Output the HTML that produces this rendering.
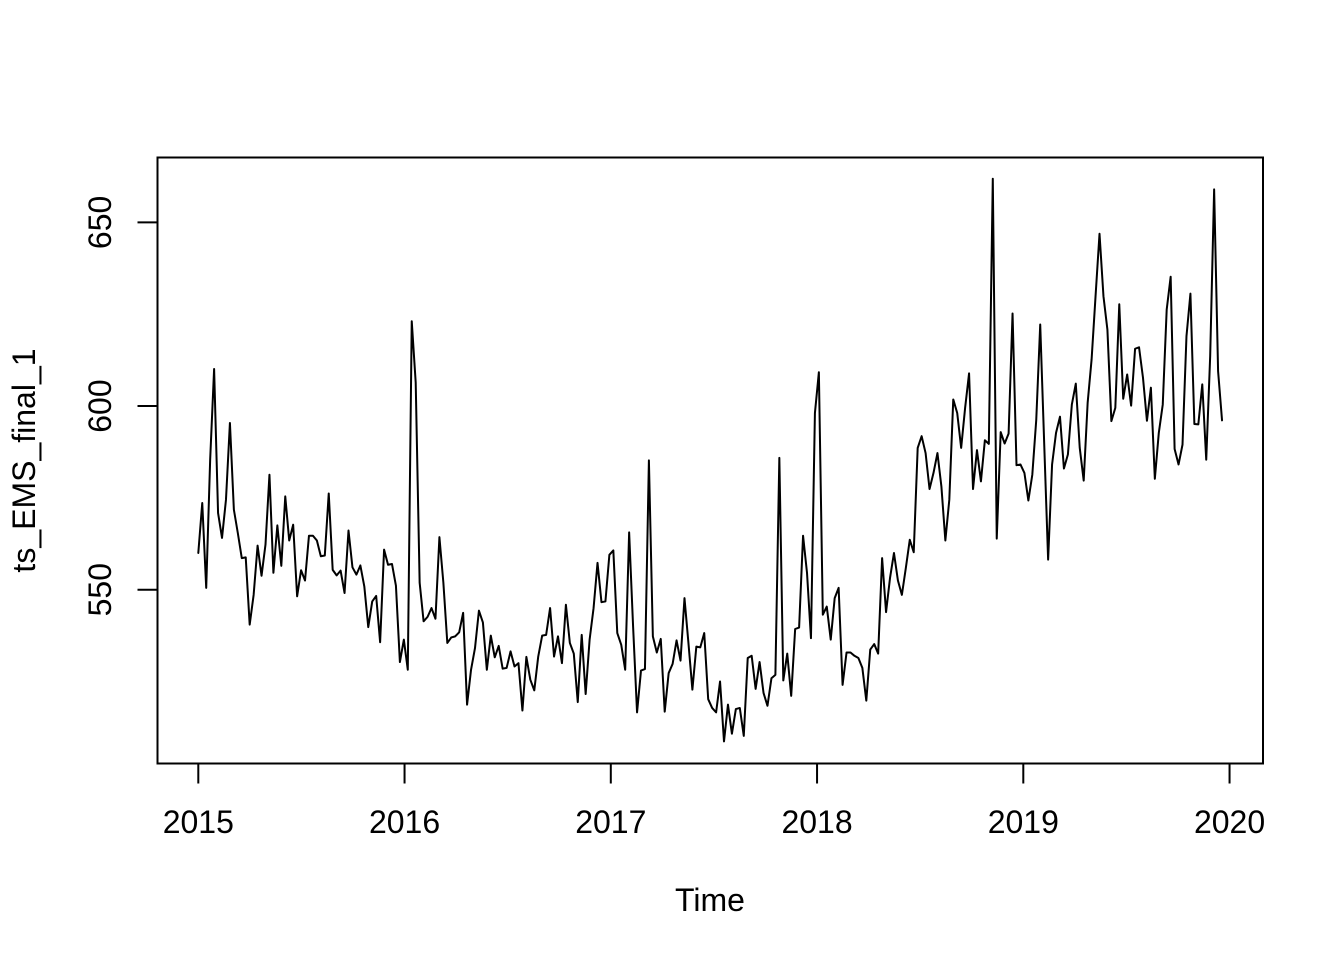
<!DOCTYPE html>
<html lang="en">
<head>
<meta charset="utf-8">
<title>ts_EMS_final_1</title>
<style>
html,body{margin:0;padding:0;background:#fff;width:1344px;height:960px;overflow:hidden}
svg{display:block}
text{font-family:"Liberation Sans",Arial,sans-serif;font-size:32px;fill:#000}
</style>
</head>
<body>
<svg id="chart" xmlns="http://www.w3.org/2000/svg" width="1344" height="960" viewBox="0 0 1344 960">
  <rect x="0" y="0" width="1344" height="960" fill="#fff"/>
  <g id="series-layer"></g>
  <rect x="157.5" y="157.5" width="1105.5" height="606" fill="none" stroke="#000" stroke-width="2"/>
  <g id="x-axis"></g>
  <g id="y-axis"></g>
  <text x="710" y="911" text-anchor="middle">Time</text>
  <text transform="translate(35 460.5) rotate(-90)" text-anchor="middle">ts_EMS_final_1</text>
</svg>
<script>
const xTickValues = [2015, 2016, 2017, 2018, 2019, 2020];
const yTickValues = [550, 600, 650];
const startYear = 2015;
const observationsPerYear = 52.18;
const seriesValues = [
560.0,573.6,550.5,585.4,610.1,570.9,564.1,574.5,595.4,571.8,565.4,558.6,558.8,540.5,548.6,562,553.8,562.3,581.3,554.6,
567.5,556.5,575.4,563.4,567.7,548.2,555.3,552.5,564.7,564.7,563.4,559.1,559.3,576.2,555.4,553.9,555.2,549.1,566.1,556.1,
554.1,556.6,550.9,539.8,546.8,548.3,535.7,560.9,556.8,557,551.1,530.3,536.4,528.2,623.1,606.4,551.9,541.4,542.6,545,
542.1,564.3,551.9,535.5,537,537.3,538.4,543.7,518.7,528.2,534.1,544.3,541.1,528.2,537.5,531.6,534.7,528.5,528.7,533.2,
529.1,530,517.1,531.7,525.5,522.6,531.8,537.5,537.7,545,531.8,537.3,530,545.9,535.5,532.6,519.4,537.7,521.6,536.4,
545,557.3,546.6,546.8,559.5,560.7,538.2,535,528.2,565.6,540,516.6,528,528.4,585.2,537.3,532.9,536.6,516.8,527.3,
529.8,536.2,530.7,547.7,535.5,522.8,534.5,534.3,538.2,520.2,517.8,516.6,525,508.7,518.7,510.8,517.5,517.8,510.2,531.4,
532,523,530.3,521.9,518.4,525.9,526.8,585.9,525.3,532.6,521.1,539.3,539.7,564.7,554.6,536.8,598.1,609.2,543.2,545.4,
536.4,547.7,550.5,524.1,532.9,532.9,532,531.4,528.7,519.8,533.7,535.2,532.6,558.6,543.9,553.2,560,552.5,548.6,555.9,
563.6,560.2,588.6,591.8,587.2,577.4,581.8,587.2,578.1,563.4,574.5,601.8,598.1,588.6,599.5,608.9,577.4,588,579.5,590.7,
589.7,661.9,563.9,592.9,589.8,592.5,625.2,583.9,584.1,581.8,574.3,581.3,596.3,622.2,590,558.2,584.1,592.7,597.1,583,
586.8,600.4,606.1,588.6,579.7,600.9,612.7,629.9,646.9,629.9,620.8,595.9,599.5,627.7,602,608.6,600.1,615.6,616,607.7,
596,605,580.2,592.7,600.4,626.3,635.2,588.3,584.1,589.5,619,630.6,595.1,595,605.9,585.4,613.6,659,609.5,596.1
];

const svgNS = 'http://www.w3.org/2000/svg';
function xScale(year) { return 198.3 + (year - 2015) * 206.25; }
function yScale(value) { return 589.7 - (value - 550) * 3.673; }

const seriesLayer = document.getElementById('series-layer');
const line = document.createElementNS(svgNS, 'polyline');


line.setAttribute('points', seriesValues.map(function (v, i) {
  const t = startYear + i / observationsPerYear;
  return xScale(t).toFixed(2) + ',' + yScale(v).toFixed(2);
}).join(' '));
line.setAttribute('fill', 'none');
line.setAttribute('stroke', '#000');
line.setAttribute('stroke-width', '2');
line.setAttribute('stroke-linejoin', 'round');
line.setAttribute('stroke-linecap', 'round');
seriesLayer.appendChild(line);

function drawLine(parent, x1, y1, x2, y2) {
  const l = document.createElementNS(svgNS, 'line');
  l.setAttribute('x1', x1);
  l.setAttribute('y1', y1);
  l.setAttribute('x2', x2);
  l.setAttribute('y2', y2);
  l.setAttribute('stroke', '#000');
  l.setAttribute('stroke-width', '2');
  parent.appendChild(l);
  return l;
}

const xAxis = document.getElementById('x-axis');
const xDomainLine = drawLine(xAxis, xScale(xTickValues[0]), 763.5, xScale(xTickValues[xTickValues.length - 1]), 763.5);


xTickValues.forEach(function (year) {
  const tick = drawLine(xAxis, xScale(year), 763.5, xScale(year), 783.5);
  
  
  const label = document.createElementNS(svgNS, 'text');
  
  
  label.setAttribute('x', xScale(year));
  label.setAttribute('y', 833);
  label.setAttribute('text-anchor', 'middle');
  label.textContent = String(year);
  xAxis.appendChild(label);
});

const yAxis = document.getElementById('y-axis');
const yDomainLine = drawLine(yAxis, 157.5, yScale(yTickValues[0]), 157.5, yScale(yTickValues[yTickValues.length - 1]));


yTickValues.forEach(function (value) {
  const tick = drawLine(yAxis, 137.5, yScale(value), 157.5, yScale(value));
  
  
  const label = document.createElementNS(svgNS, 'text');
  
  
  label.setAttribute('transform', 'translate(111 ' + yScale(value) + ') rotate(-90)');
  label.setAttribute('text-anchor', 'middle');
  label.textContent = String(value);
  yAxis.appendChild(label);
});
</script>
</body>
</html>
